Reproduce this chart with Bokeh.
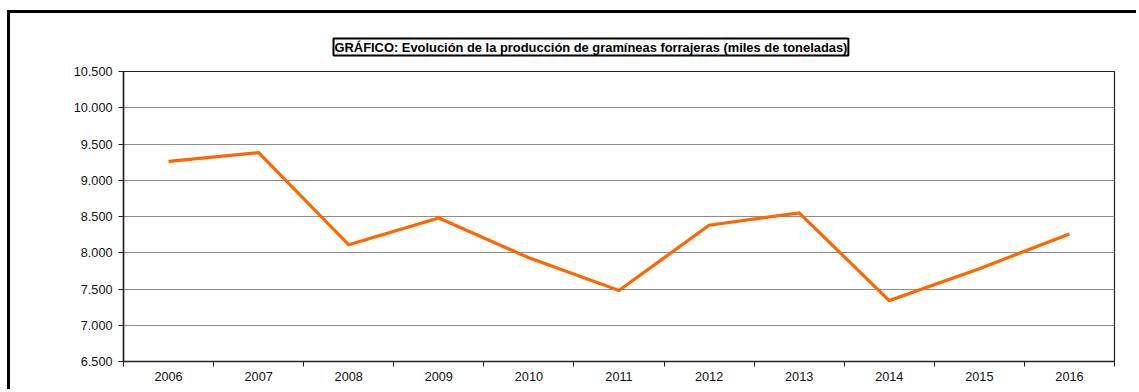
from bokeh.plotting import figure
from bokeh.models import FixedTicker, Range1d
from bokeh.embed import file_html
from bokeh.resources import INLINE

years = ["2006", "2007", "2008", "2009", "2010", "2011", "2012", "2013", "2014", "2015", "2016"]
production = [9260, 9380, 8110, 8480, 7930, 7480, 8380, 8550, 7340, 7780, 8260]
y_ticks = [6500, 7000, 7500, 8000, 8500, 9000, 9500, 10000, 10500]
title_text = "GRÁFICO: Evolución de la producción de gramíneas forrajeras (miles de toneladas)"

FONT = "Liberation Sans"

n = len(years)
xs = [i + 0.5 for i in range(n)]

p = figure(width=1129, height=379, output_backend="svg", toolbar_location=None,
           x_range=Range1d(0, n), y_range=Range1d(y_ticks[0], y_ticks[-1]),
           min_border_left=113, min_border_right=25, min_border_top=58, min_border_bottom=31)
p.styles = {"border-left": "3px solid black", "border-top": "3px solid black",
            "margin-top": "10px", "margin-left": "7px"}

p.title.text = title_text
p.title.align = "left"
p.title.offset = 210
p.title.text_font = FONT
p.title.text_font_size = "12.9px"
p.title.text_font_style = "bold"
p.title.text_color = "black"
p.title.border_line_color = "black"
p.title.border_line_width = 2
p.title.background_fill_color = "white"
p.title.padding = 1
p.title.standoff = 32
p.title.vertical_align = "bottom"

p.line(xs, production, line_color="#FF6600", line_width=3.2, line_join="miter")

# x axis
p.xaxis.ticker = FixedTicker(ticks=xs, minor_ticks=list(range(n + 1)))
p.xaxis.major_label_overrides = {x: y for x, y in zip(xs, years)}
p.xaxis.major_tick_out = 0
p.xaxis.major_tick_in = 0
p.xaxis.minor_tick_out = 5
p.xaxis.minor_tick_in = 0
p.xaxis.minor_tick_line_color = "#222222"
p.xaxis.axis_line_color = "#222222"
p.xaxis.axis_line_width = 1.5
p.xaxis.major_label_standoff = 5
p.xaxis.major_label_text_font = FONT
p.xaxis.major_label_text_font_size = "12.7px"
p.xaxis.major_label_text_color = "#111111"

# y axis
p.yaxis.ticker = FixedTicker(ticks=y_ticks, minor_ticks=[])
p.yaxis.major_label_overrides = {v: f"{v:,}".replace(",", ".") for v in y_ticks}
p.yaxis.major_tick_out = 5
p.yaxis.major_tick_in = 0
p.yaxis.major_tick_line_color = "#222222"
p.yaxis.axis_line_color = "#222222"
p.yaxis.axis_line_width = 1.5
p.yaxis.major_label_standoff = 6
p.yaxis.major_label_text_font = FONT
p.yaxis.major_label_text_font_size = "12.7px"
p.yaxis.major_label_text_color = "#111111"

p.xgrid.grid_line_color = None
p.ygrid.ticker = FixedTicker(ticks=y_ticks)
p.ygrid.grid_line_color = "#8c8c8c"
p.ygrid.grid_line_width = 1

p.outline_line_color = "#222222"
p.outline_line_width = 1.2

open("out.html", "w").write(file_html(p, INLINE))
